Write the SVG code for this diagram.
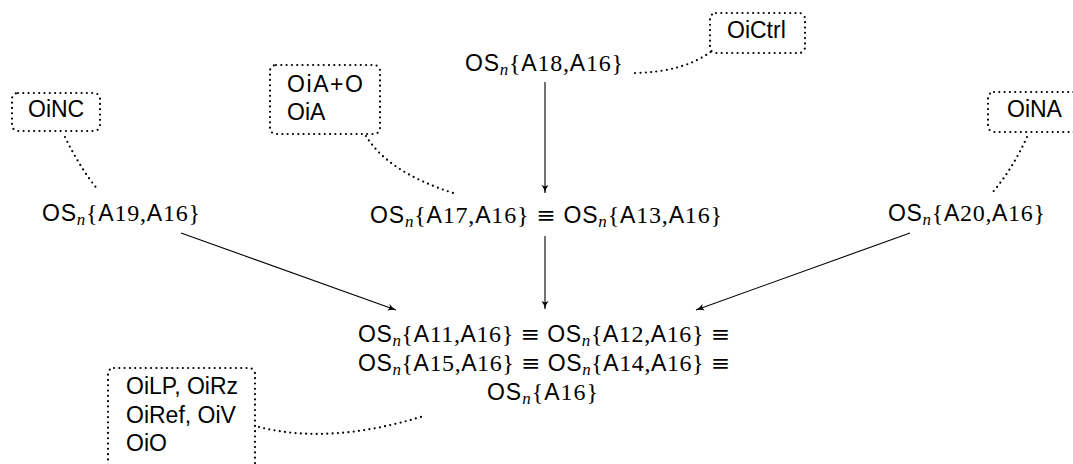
<svg xmlns="http://www.w3.org/2000/svg" width="1073" height="464" viewBox="0 0 1073 464">
<style>
text{font-size:23px;fill:#000}
.s{font-family:"Liberation Sans","DejaVu Sans",sans-serif}
.r{font-family:"Liberation Serif","DejaVu Serif",serif;font-size:24px}
.sub{font-family:"Liberation Serif","DejaVu Serif",serif;font-style:italic;font-size:17px}
.eq{font-family:"DejaVu Serif","Liberation Serif",serif}
.box{fill:none;stroke:#000;stroke-width:2.2;stroke-dasharray:0 5.3;stroke-linecap:round}
.dot{fill:none;stroke:#000;stroke-width:2.2;stroke-dasharray:0 5.3;stroke-linecap:round}
.arr{fill:none;stroke:#000;stroke-width:1.1;marker-end:url(#ah)}
.lbl{font-family:"Liberation Sans","DejaVu Sans",sans-serif;font-size:23px}
</style>
<defs>
<marker id="ah" markerWidth="10" markerHeight="8" refX="8" refY="4" orient="auto" markerUnits="userSpaceOnUse">
<path d="M0,0.5 Q3,3 8,4 Q3,5 0,7.5 L1.5,4 Z" fill="#000"/>
</marker>
</defs>
<g id="connectors">
<path class="arr" d="M545,82 L545,193"/>
<path class="arr" d="M545,236 L545,309"/>
<path class="arr" d="M181,233 L396,310"/>
<path class="arr" d="M910,233 L696,310"/>
<path class="dot" d="M65,137 Q80,168 98,190"/>
<path class="dot" d="M366,136 Q388,172 453,193"/>
<path class="dot" d="M635,73 Q684,72 712,51"/>
<path class="dot" d="M1027,137 Q1012,170 992,193"/>
<path class="dot" d="M259,427 Q330,445 424,416"/>
</g>
<g id="n_A18">
<text x="465" y="71" textLength="158" lengthAdjust="spacing"><tspan class="s">OS</tspan><tspan class="sub" dy="4">n</tspan><tspan class="r" dy="-4">{</tspan><tspan class="s">A</tspan><tspan class="r">18,</tspan><tspan class="s">A</tspan><tspan class="r">16}</tspan></text>
</g>
<g id="n_A19">
<text x="42" y="221" textLength="158" lengthAdjust="spacing"><tspan class="s">OS</tspan><tspan class="sub" dy="4">n</tspan><tspan class="r" dy="-4">{</tspan><tspan class="s">A</tspan><tspan class="r">19,</tspan><tspan class="s">A</tspan><tspan class="r">16}</tspan></text>
</g>
<g id="n_A20">
<text x="888" y="221" textLength="157" lengthAdjust="spacing"><tspan class="s">OS</tspan><tspan class="sub" dy="4">n</tspan><tspan class="r" dy="-4">{</tspan><tspan class="s">A</tspan><tspan class="r">20,</tspan><tspan class="s">A</tspan><tspan class="r">16}</tspan></text>
</g>
<g id="n_A17">
<text x="370" y="223" textLength="352" lengthAdjust="spacing"><tspan class="s">OS</tspan><tspan class="sub" dy="4">n</tspan><tspan class="r" dy="-4">{</tspan><tspan class="s">A</tspan><tspan class="r">17,</tspan><tspan class="s">A</tspan><tspan class="r">16} </tspan><tspan class="eq">≡</tspan><tspan class="s"> OS</tspan><tspan class="sub" dy="4">n</tspan><tspan class="r" dy="-4">{</tspan><tspan class="s">A</tspan><tspan class="r">13,</tspan><tspan class="s">A</tspan><tspan class="r">16}</tspan></text>
</g>
<g id="n_A16">
<text x="358" y="342" textLength="372" lengthAdjust="spacing"><tspan class="s">OS</tspan><tspan class="sub" dy="4">n</tspan><tspan class="r" dy="-4">{</tspan><tspan class="s">A</tspan><tspan class="r">11,</tspan><tspan class="s">A</tspan><tspan class="r">16} </tspan><tspan class="eq">≡</tspan><tspan class="s"> OS</tspan><tspan class="sub" dy="4">n</tspan><tspan class="r" dy="-4">{</tspan><tspan class="s">A</tspan><tspan class="r">12,</tspan><tspan class="s">A</tspan><tspan class="r">16} </tspan><tspan class="eq">≡</tspan></text>
<text x="358" y="371" textLength="372" lengthAdjust="spacing"><tspan class="s">OS</tspan><tspan class="sub" dy="4">n</tspan><tspan class="r" dy="-4">{</tspan><tspan class="s">A</tspan><tspan class="r">15,</tspan><tspan class="s">A</tspan><tspan class="r">16} </tspan><tspan class="eq">≡</tspan><tspan class="s"> OS</tspan><tspan class="sub" dy="4">n</tspan><tspan class="r" dy="-4">{</tspan><tspan class="s">A</tspan><tspan class="r">14,</tspan><tspan class="s">A</tspan><tspan class="r">16} </tspan><tspan class="eq">≡</tspan></text>
<text x="487" y="400" textLength="111" lengthAdjust="spacing"><tspan class="s">OS</tspan><tspan class="sub" dy="4">n</tspan><tspan class="r" dy="-4">{</tspan><tspan class="s">A</tspan><tspan class="r">16}</tspan></text>
</g>
<g id="c_OiNC">
<rect class="box" x="12" y="93" width="88" height="38" rx="6"/>
<text class="lbl" x="28" y="117">OiNC</text>
</g>
<g id="c_OiA">
<rect class="box" x="270" y="65" width="110" height="69" rx="6"/>
<text class="lbl" x="287" y="92" textLength="76" lengthAdjust="spacing">OiA+O</text>
<text class="lbl" x="287" y="120">OiA</text>
</g>
<g id="c_OiCtrl">
<rect class="box" x="710" y="13" width="95" height="40" rx="6"/>
<text class="lbl" x="727" y="38">OiCtrl</text>
</g>
<g id="c_OiNA">
<rect class="box" x="988" y="92" width="95" height="40" rx="6"/>
<text class="lbl" x="1007" y="117">OiNA</text>
</g>
<g id="c_OiLP">
<rect class="box" x="108" y="368" width="147" height="110" rx="6"/>
<text class="lbl" x="126" y="394">OiLP, OiRz</text>
<text class="lbl" x="126" y="423">OiRef, OiV</text>
<text class="lbl" x="126" y="451">OiO</text>
</g>
</svg>
